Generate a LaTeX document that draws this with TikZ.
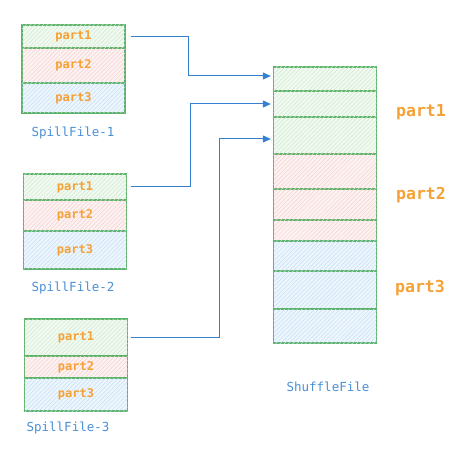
\documentclass[tikz,border=0pt]{standalone}
\usepackage{fontspec}
\setmonofont{DejaVu Sans Mono}
\usetikzlibrary{arrows.meta,patterns.meta}
\definecolor{gborder}{HTML}{5DB36A}
\definecolor{gbg}{HTML}{F1F9F1}
\definecolor{gline}{HTML}{CDEBCF}
\definecolor{rbg}{HTML}{FDF2F2}
\definecolor{rline}{HTML}{F7D0D0}
\definecolor{bbg}{HTML}{EDF5FD}
\definecolor{bline}{HTML}{C6DFF6}
\definecolor{arrblue}{HTML}{3580CF}
\definecolor{txtblue}{HTML}{4A8FD6}
\definecolor{orng}{HTML}{F5A135}
\tikzset{
  cell/.style={draw=gborder, line width=1.3pt, inner sep=0pt, minimum width=103pt,
    font=\ttfamily\bfseries\fontsize{12}{13}\selectfont, text=orng},
  gcell/.style={cell, fill=gbg, postaction={pattern={Lines[angle=45,distance=3pt,line width=0.5pt]}, pattern color=gline}},
  rcell/.style={cell, fill=rbg, postaction={pattern={Lines[angle=45,distance=3pt,line width=0.5pt]}, pattern color=rline}},
  bcell/.style={cell, fill=bbg, postaction={pattern={Lines[angle=45,distance=3pt,line width=0.5pt]}, pattern color=bline}},
  flabel/.style={font=\ttfamily\fontsize{12.5}{14}\selectfont, text=txtblue},
  plabel/.style={font=\ttfamily\bfseries\fontsize{16.5}{18}\selectfont, text=orng},
  arr/.style={draw=arrblue, line width=1pt, -{Triangle[length=8pt,width=7pt]}, shorten >=2pt}
}
\begin{document}
\begin{tikzpicture}[x=1pt,y=-1pt]
\useasboundingbox (0,0) rectangle (471,454);
% SpillFile-1
\node[gcell, minimum height=23pt] (a1) at (73.5,36.5) {part1};
\node[rcell, minimum height=35pt] (a2) at (73.5,65.5) {part2};
\node[bcell, minimum height=30pt] (a3) at (73.5,98) {part3};
\node[flabel] (la) at (73,133) {SpillFile-1};
% SpillFile-2
\node[gcell, minimum height=26pt] (b1) at (75,187) {part1};
\node[rcell, minimum height=31pt] (b2) at (75,215.5) {part2};
\node[bcell, minimum height=38pt] (b3) at (75,250) {part3};
\node[flabel] (lb) at (73,288) {SpillFile-2};
% SpillFile-3
\node[gcell, minimum height=37pt] (c1) at (76,337.5) {part1};
\node[rcell, minimum height=22pt] (c2) at (76,367) {part2};
\node[bcell, minimum height=33pt] (c3) at (76,394.5) {part3};
\node[flabel] (lc) at (68,428) {SpillFile-3};
% ShuffleFile
\node[gcell, minimum height=24pt] (s1) at (325,79) {};
\node[gcell, minimum height=26pt] (s2) at (325,104) {};
\node[gcell, minimum height=37pt] (s3) at (325,135.5) {};
\node[rcell, minimum height=35pt] (s4) at (325,171.5) {};
\node[rcell, minimum height=31pt] (s5) at (325,204.5) {};
\node[rcell, minimum height=21pt] (s6) at (325,230.5) {};
\node[bcell, minimum height=30pt] (s7) at (325,256) {};
\node[bcell, minimum height=38pt] (s8) at (325,290) {};
\node[bcell, minimum height=34pt] (s9) at (325,326) {};
\node[flabel] (ls) at (328,387) {ShuffleFile};
\node[plabel] (p1) at (421,112) {part1};
\node[plabel] (p2) at (421,195) {part2};
\node[plabel] (p3) at (420,288) {part3};
% arrows
\coordinate (ta) at ([yshift=3pt]s1.west);
\coordinate (tb) at (s2.west);
\coordinate (tc) at ([yshift=-3.5pt]s3.west);
\draw[arr] ([xshift=5pt]a1.east) -- ++(58,0) |- (ta);
\draw[arr] ([xshift=4pt]b1.east) -- ++(59,0) |- (tb);
\draw[arr] ([xshift=3pt]c1.east) -- ++(88,0) |- (tc);
\end{tikzpicture}
\end{document}
